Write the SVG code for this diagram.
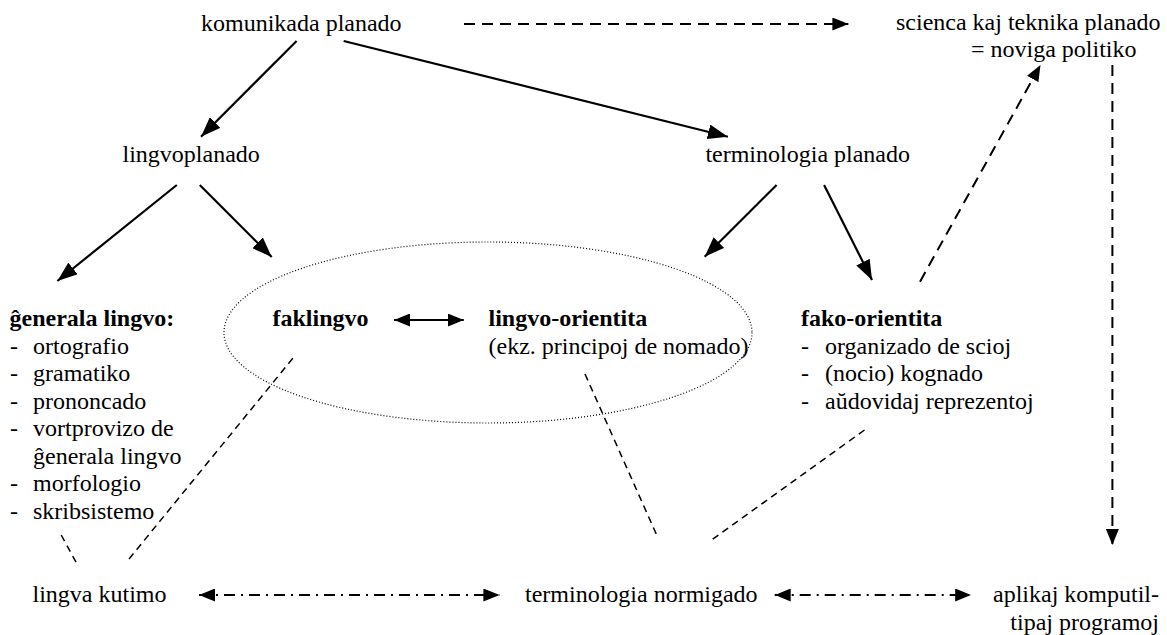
<svg xmlns="http://www.w3.org/2000/svg" width="1167" height="635" viewBox="0 0 1167 635">
<style>
text{font-family:'Liberation Serif','Times New Roman',serif;font-size:24px;fill:#000}
.b{font-weight:bold}
.solid{stroke:#000;stroke-width:2.2;fill:none}
.dash{stroke:#000;stroke-width:2;fill:none;stroke-dasharray:11 7}
.thin{stroke:#000;stroke-width:1.5;fill:none;stroke-dasharray:7 5}
.dd{stroke:#000;stroke-width:1.8;fill:none;stroke-dasharray:11 6 2 6}
</style>
<defs>
<marker id="ah" markerUnits="userSpaceOnUse" markerWidth="20" markerHeight="15" refX="20" refY="7.5" orient="auto-start-reverse"><path d="M0,0 L20,7.5 L0,15 z" fill="#000"/></marker>
<marker id="ahs" markerUnits="userSpaceOnUse" markerWidth="16" markerHeight="13" refX="16" refY="6.5" orient="auto-start-reverse"><path d="M0,0 L16,6.5 L0,13 z" fill="#000"/></marker>
</defs>
<rect width="1167" height="635" fill="#fff"/>
<g id="connectors">
<line class="solid" x1="296.6" y1="41" x2="201" y2="136.7" marker-end="url(#ah)"/>
<line class="solid" x1="343.7" y1="41" x2="727.9" y2="136.7" marker-end="url(#ah)"/>
<line class="solid" x1="176.8" y1="185" x2="57.4" y2="281" marker-end="url(#ah)"/>
<line class="solid" x1="199.8" y1="185" x2="271.7" y2="257" marker-end="url(#ah)"/>
<line class="solid" x1="776.6" y1="185" x2="704.7" y2="256.7" marker-end="url(#ah)"/>
<line class="solid" x1="824.1" y1="185" x2="872" y2="280" marker-end="url(#ah)"/>
<line class="solid" x1="394" y1="320" x2="463.8" y2="320" marker-start="url(#ahs)" marker-end="url(#ahs)"/>
<line class="dash" x1="464" y1="24" x2="848.4" y2="24" marker-end="url(#ahs)"/>
<line class="dash" x1="920" y1="281.7" x2="1040.5" y2="65" marker-end="url(#ahs)"/>
<line class="dash" x1="1112.4" y1="65" x2="1112.4" y2="545" marker-end="url(#ahs)"/>
<line class="thin" x1="292.8" y1="358.3" x2="128.2" y2="560"/>
<line class="thin" x1="61.2" y1="535" x2="78.5" y2="566.7"/>
<line class="thin" x1="585" y1="374" x2="656.7" y2="535"/>
<line class="thin" x1="864.5" y1="430" x2="709.2" y2="541.7"/>
<line class="dd" x1="199" y1="595" x2="499.4" y2="595" marker-start="url(#ahs)" marker-end="url(#ahs)"/>
<line class="dd" x1="774.7" y1="595" x2="971.2" y2="595" marker-start="url(#ahs)" marker-end="url(#ahs)"/>
</g>
<g id="ellipse"><ellipse cx="488" cy="332.5" rx="264" ry="90.5" fill="none" stroke="#000" stroke-width="1.2" stroke-dasharray="1 2"/></g>
<g id="komunikada"><text x="201" y="31">komunikada planado</text></g>
<g id="scienca"><text x="896" y="30">scienca kaj teknika planado</text><text x="971" y="57">= noviga politiko</text></g>
<g id="lingvoplanado"><text x="122.5" y="162">lingvoplanado</text></g>
<g id="terminologia"><text x="705.4" y="162">terminologia planado</text></g>
<g id="generala">
<text class="b" x="9.5" y="326">ĝenerala lingvo:</text>
<text x="10" y="353.5">-</text><text x="33" y="353.5">ortografio</text>
<text x="10" y="381">-</text><text x="33" y="381">gramatiko</text>
<text x="10" y="408.5">-</text><text x="33" y="408.5">prononcado</text>
<text x="10" y="436">-</text><text x="33" y="436">vortprovizo de</text>
<text x="33" y="463.5">ĝenerala lingvo</text>
<text x="10" y="491">-</text><text x="33" y="491">morfologio</text>
<text x="10" y="518.5">-</text><text x="33" y="518.5">skribsistemo</text>
</g>
<g id="faklingvo"><text class="b" x="272.5" y="326">faklingvo</text></g>
<g id="lingvo-orientita"><text class="b" x="488.5" y="326">lingvo-orientita</text><text x="488.5" y="353.5">(ekz. principoj de nomado)</text></g>
<g id="fako-orientita">
<text class="b" x="801" y="326">fako-orientita</text>
<text x="801" y="353.5">-</text><text x="825" y="353.5">organizado de scioj</text>
<text x="801" y="381">-</text><text x="825" y="381">(nocio) kognado</text>
<text x="801" y="408.5">-</text><text x="825" y="408.5">aŭdovidaj reprezentoj</text>
</g>
<g id="lingva-kutimo"><text x="32.5" y="602">lingva kutimo</text></g>
<g id="terminologia-normigado"><text x="525" y="602">terminologia normigado</text></g>
<g id="aplikaj"><text x="1159" y="602" text-anchor="end">aplikaj komputil-</text><text x="1159" y="629.5" text-anchor="end">tipaj programoj</text></g>
</svg>
